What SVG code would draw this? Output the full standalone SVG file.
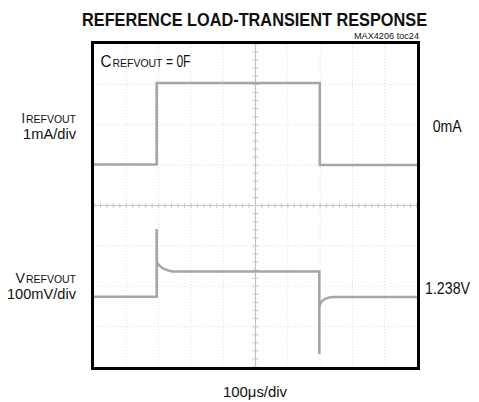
<svg xmlns="http://www.w3.org/2000/svg" width="479" height="402" viewBox="0 0 479 402">
<style>
.t{font-family:"Liberation Sans Narrow","Liberation Sans",Arial,sans-serif;fill:#111}
.grid{stroke:#dedede;stroke-width:1;stroke-dasharray:1 2;fill:none}
.axis{stroke:#c2c2c2;stroke-width:1.2;fill:none}
.tick{stroke:#c8c8c8;fill:none}
.trace{stroke:#a6a6a6;stroke-width:2.6;fill:none;stroke-linejoin:miter}
</style>
<rect width="479" height="402" fill="#fff"/>
<text class="t" x="254.5" y="26" text-anchor="middle" font-size="19" font-weight="bold" textLength="345" lengthAdjust="spacingAndGlyphs">REFERENCE LOAD-TRANSIENT RESPONSE</text>
<text class="t" x="419" y="39.3" text-anchor="end" font-size="8.5" textLength="65" lengthAdjust="spacingAndGlyphs">MAX4206 toc24</text>
<g id="plot">
<g id="grid">
<path class="grid" d="M126.3,44V367M158.6,44V367M190.9,44V367M223.2,44V367M287.8,44V367M320.1,44V367M352.4,44V367M384.7,44V367"/>
<path class="grid" d="M94,84.4H417M94,124.75H417M94,165.1H417M94,245.9H417M94,286.25H417M94,326.6H417"/>
<path class="axis" d="M94,205.5H417M255.5,44V367"/>
<line class="tick" x1="94" y1="205.5" x2="417" y2="205.5" stroke-width="5" stroke-dasharray="1 5.46" stroke-dashoffset="-5.96"/>
<line class="tick" x1="255.5" y1="44" x2="255.5" y2="367" stroke-width="6" stroke-dasharray="1 7.075" stroke-dashoffset="-7.575"/>
</g>
<g id="traces">
<path id="current" class="trace" d="M94,164.5H156.7V83H319.8V165H417"/>
<path id="voltage" class="trace" d="M94,296.7H156.7V229V262Q160,269 172,271.5H319.3V354V308C320,301 324,297.5 334,297H417"/>
</g>
<rect id="frame" x="92.5" y="42.5" width="326" height="326" fill="none" stroke="#000" stroke-width="3"/>
<g id="cap-label">
<text class="t" x="100.5" y="66.7" font-size="17" textLength="11" lengthAdjust="spacingAndGlyphs">C</text>
<text class="t" x="112.5" y="66.7" font-size="11" textLength="50" lengthAdjust="spacingAndGlyphs">REFVOUT</text>
<text class="t" x="166" y="66.7" font-size="16.5" textLength="24.5" lengthAdjust="spacingAndGlyphs">= 0F</text>
</g>
</g>
<g id="labels">
<text class="t" x="21.5" y="122.7" font-size="14" textLength="3.5" lengthAdjust="spacingAndGlyphs">I</text>
<text class="t" x="76" y="122.7" text-anchor="end" font-size="10.5" textLength="50" lengthAdjust="spacingAndGlyphs">REFVOUT</text>
<text class="t" x="76" y="139.3" text-anchor="end" font-size="14" textLength="53" lengthAdjust="spacingAndGlyphs">1mA/div</text>
<text class="t" x="15.5" y="282.5" font-size="14" textLength="9.5" lengthAdjust="spacingAndGlyphs">V</text>
<text class="t" x="76" y="282.5" text-anchor="end" font-size="10.5" textLength="50" lengthAdjust="spacingAndGlyphs">REFVOUT</text>
<text class="t" x="76" y="299.3" text-anchor="end" font-size="14" textLength="69" lengthAdjust="spacingAndGlyphs">100mV/div</text>
<text class="t" x="432.7" y="131.7" font-size="16" textLength="29" lengthAdjust="spacingAndGlyphs">0mA</text>
<text class="t" x="425" y="294" font-size="16" textLength="45" lengthAdjust="spacingAndGlyphs">1.238V</text>
<text class="t" x="255" y="397" text-anchor="middle" font-size="15" textLength="64" lengthAdjust="spacingAndGlyphs">100μs/div</text>
</g>
</svg>
